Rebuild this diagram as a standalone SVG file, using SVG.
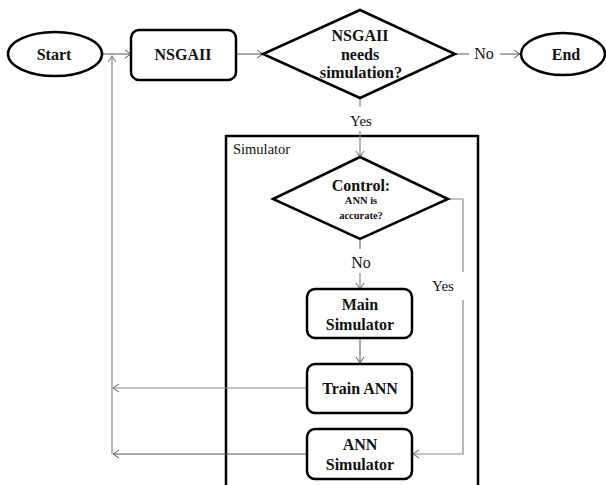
<svg xmlns="http://www.w3.org/2000/svg" width="606" height="485" viewBox="0 0 606 485" font-family="'Liberation Serif', 'Times New Roman', Times, serif">
<defs>
<style>
.sh{fill:#fff;stroke:#000;stroke-width:2.5}
.frame{fill:none;stroke:#000;stroke-width:2.5}
.c{fill:none;stroke:#555;stroke-width:1}
.g{fill:none;stroke:#888;stroke-width:1.2}
text{fill:#111;text-anchor:middle}
.b{font-weight:bold;font-size:16px}
.s{font-weight:bold;font-size:10.5px}
.r{font-size:15px}
</style>
<marker id="a" markerUnits="userSpaceOnUse" markerWidth="12" markerHeight="12" refX="8" refY="6" orient="auto" overflow="visible">
<path d="M2,2 L8,6 L2,10" fill="none" stroke="#555" stroke-width="1"/>
</marker>
<marker id="ag" markerUnits="userSpaceOnUse" markerWidth="12" markerHeight="12" refX="8" refY="6" orient="auto" overflow="visible">
<path d="M2,2 L8,6 L2,10" fill="none" stroke="#888" stroke-width="1.2"/>
</marker>
</defs>
<g id="simulator-frame">
<rect class="frame" x="226" y="136" width="252" height="370"/>
<text x="233" y="154" class="r" style="text-anchor:start;font-size:14.5px">Simulator</text>
</g>
<g id="connectors">
<line class="c" x1="102" y1="54" x2="131" y2="54" marker-end="url(#a)"/>
<line class="c" x1="236" y1="54" x2="263" y2="54" marker-end="url(#a)"/>
<line class="c" x1="455" y1="54" x2="469" y2="54"/>
<text x="484" y="59" class="r" style="font-size:16px">No</text>
<line class="c" x1="500" y1="54" x2="520" y2="54" marker-end="url(#a)"/>
<line class="g" x1="360" y1="98" x2="360" y2="107"/>
<text x="361" y="126" class="r">Yes</text>
<line class="g" x1="360" y1="131" x2="360" y2="157" marker-end="url(#ag)"/>
<line class="c" x1="360" y1="239" x2="360" y2="249"/>
<text x="361" y="268" class="r" style="font-size:16px">No</text>
<line class="g" x1="360" y1="273" x2="360" y2="289" marker-end="url(#ag)"/>
<polyline class="g" points="448,199 463,199 463,272"/>
<text x="443" y="291" class="r">Yes</text>
<polyline class="g" points="463,300 463,454 413,454" marker-end="url(#ag)"/>
<line class="c" x1="360" y1="338" x2="360" y2="363" marker-end="url(#a)"/>
<line class="g" x1="307" y1="388" x2="113" y2="388" marker-end="url(#ag)"/>
<line class="c" x1="307" y1="454" x2="113" y2="454" marker-end="url(#a)"/>
<line class="g" x1="112" y1="454" x2="112" y2="56" marker-end="url(#ag)"/>
</g>
<g id="start">
<ellipse class="sh" cx="55" cy="54" rx="47" ry="22"/>
<text x="54" y="60" class="b">Start</text>
</g>
<g id="nsgaii">
<rect class="sh" x="131" y="30" width="105" height="50" rx="8"/>
<text x="183" y="60" class="b">NSGAII</text>
</g>
<g id="decision-nsgaii">
<polygon class="sh" points="360,10 455,54 360,98 263,54"/>
<text x="360" y="41" class="b">NSGAII</text>
<text x="360" y="60" class="b">needs</text>
<text x="361" y="78" class="b" style="font-size:16.5px">simulation?</text>
</g>
<g id="end">
<ellipse class="sh" cx="563" cy="54" rx="42" ry="21"/>
<text x="566" y="60" class="b">End</text>
</g>
<g id="control">
<polygon class="sh" points="360,157 448,199 360,239 273,199"/>
<text x="361" y="191" class="b">Control:</text>
<text x="361" y="204" class="s">ANN is</text>
<text x="361" y="219" class="s">accurate?</text>
</g>
<g id="main-simulator">
<rect class="sh" x="307" y="289" width="105" height="49" rx="8"/>
<text x="360" y="310" class="b">Main</text>
<text x="360" y="330" class="b">Simulator</text>
</g>
<g id="train-ann">
<rect class="sh" x="307" y="364" width="105" height="49" rx="8"/>
<text x="360" y="394" class="b">Train ANN</text>
</g>
<g id="ann-simulator">
<rect class="sh" x="307" y="429" width="105" height="50" rx="8"/>
<text x="360" y="450" class="b">ANN</text>
<text x="360" y="470" class="b">Simulator</text>
</g>
</svg>
